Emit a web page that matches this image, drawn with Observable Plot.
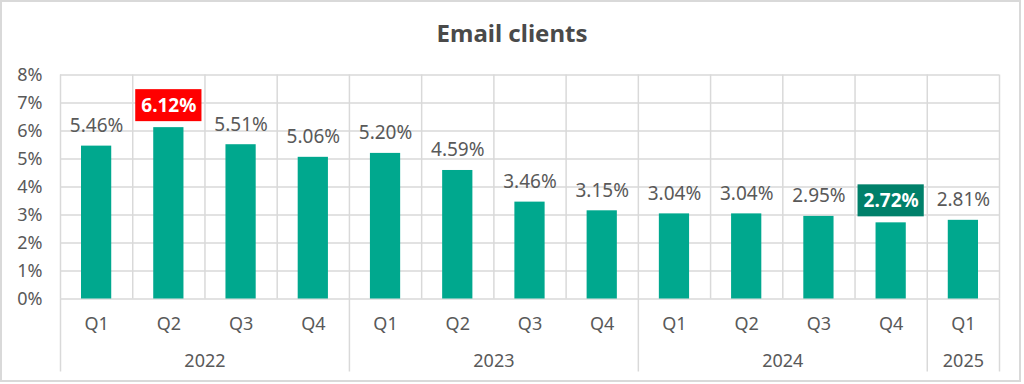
<!DOCTYPE html>
<html>
<head>
<meta charset="utf-8">
<script src="https://cdn.jsdelivr.net/npm/d3@7"></script>
<script src="https://cdn.jsdelivr.net/npm/@observablehq/plot@0.6"></script>
<style>
  html, body { margin: 0; padding: 0; background: #fff; }
  #wrap { position: relative; width: 1024px; height: 384px; overflow: hidden; }
  #frame { position: absolute; left: 0; top: 0; width: 1021px; height: 382px; box-sizing: border-box; border: 2px solid #d9d9d9; pointer-events: none; }
</style>
</head>
<body>
<div id="wrap"><div id="frame"></div></div>
<script>
const titleText = "Email clients";
const quarters = ["Q1","Q2","Q3","Q4","Q1","Q2","Q3","Q4","Q1","Q2","Q3","Q4","Q1"];
const years    = ["2022","2022","2022","2022","2023","2023","2023","2023","2024","2024","2024","2024","2025"];
const values   = [5.46, 6.12, 5.51, 5.06, 5.20, 4.59, 3.46, 3.15, 3.04, 3.04, 2.95, 2.72, 2.81];
const highlight = ["", "max", "", "", "", "", "", "", "", "", "", "min", ""];
const yTicks = [0,1,2,3,4,5,6,7,8];

const data = values.map((v, i) => ({i, q: quarters[i], year: years[i], value: v, hl: highlight[i]}));
const yearGroups = d3.groups(data, d => d.year).map(([year, rows]) => ({
  year, x: d3.mean(rows, r => r.i + 0.5), start: d3.min(rows, r => r.i)
}));
const boundaries = [...yearGroups.map(g => g.start), values.length];

const fontMain = "'Noto Sans', sans-serif";
const grey = "#595959";
const gridC = "#d9d9d9";
const barC = "#00a88e";

const fmt = d => d.toFixed(2) + "%";

const chart = Plot.plot({
  width: 1024,
  height: 384,
  marginLeft: 60,
  marginRight: 25,
  marginTop: 74.5,
  marginBottom: 85.5,
  style: {fontFamily: fontMain, color: grey, background: "transparent"},
  x: {type: "linear", domain: [0, values.length], axis: null},
  y: {domain: [0, 8], axis: null},
  marks: [
    Plot.ruleY(yTicks, {stroke: gridC, strokeWidth: 1.5}),
    Plot.ruleX(d3.range(0, values.length + 1), {stroke: gridC, strokeWidth: 1.5}),
    Plot.ruleX(boundaries, {x: d => d, y1: 0, y2: 0, insetBottom: -73, stroke: gridC, strokeWidth: 1.5}),
    Plot.rectY(data, {x1: "i", x2: d => d.i + 1, y: "value", insetLeft: 21, insetRight: 21, fill: barC}),
    // y tick labels
    Plot.text(yTicks, {x: 0, y: d => d, text: d => d + "%", textAnchor: "end", dx: -18, fontSize: 18, fill: grey}),
    // normal value labels
    Plot.text(data.filter(d => !d.hl), {x: d => d.i + 0.5, y: "value", text: d => fmt(d.value), lineAnchor: "bottom", dy: -14, fontSize: 19, fill: grey}),
    // highlight boxes
    Plot.rect(data.filter(d => d.hl), {x1: "i", x2: d => d.i + 1, y1: "value", y2: "value", insetTop: -38, insetBottom: 6, insetLeft: 3, insetRight: 3,
      fill: d => d.hl === "max" ? "#ff0000" : "#00806a"}),
    Plot.text(data.filter(d => d.hl), {x: d => d.i + 0.5, y: "value", text: d => fmt(d.value), lineAnchor: "middle", dy: -22, fontSize: 19, fontWeight: "bold", fill: "#fff"}),
    // quarter labels
    Plot.text(data, {x: d => d.i + 0.5, y: 0, text: "q", lineAnchor: "middle", dy: 25, fontSize: 18, fill: grey}),
    // year labels
    Plot.text(yearGroups, {x: "x", y: 0, text: "year", lineAnchor: "middle", dy: 62, fontSize: 18, fill: grey}),
    // title
    Plot.text([titleText], {frameAnchor: "top", text: d => d, dx: -18, dy: -41, lineAnchor: "middle", fontSize: 24, fontWeight: "bold", fill: "#4a4a4a"})
  ]
});
document.getElementById("wrap").prepend(chart);
</script>
</body>
</html>
